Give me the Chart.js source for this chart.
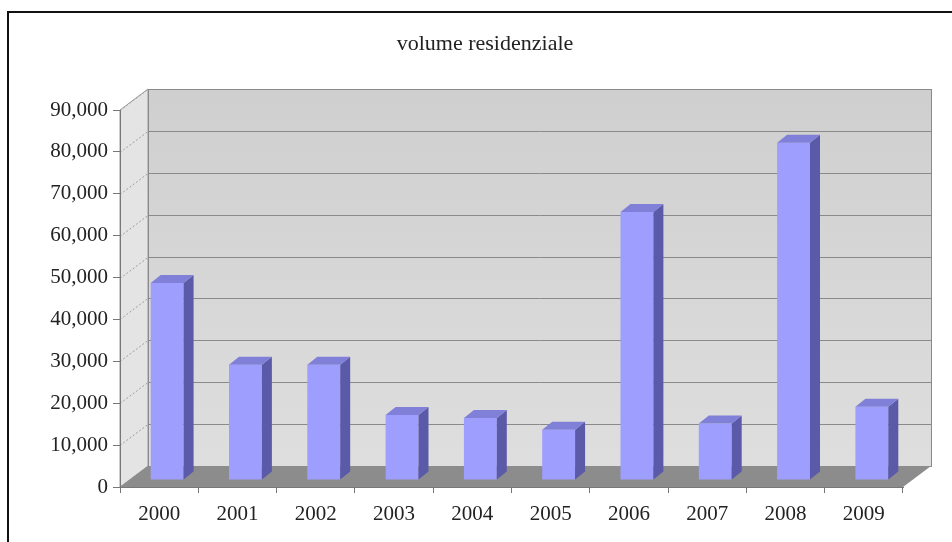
<!DOCTYPE html>
<html>
<head>
<meta charset="utf-8">
<script src="https://cdn.jsdelivr.net/npm/chart.js@4"></script>
<style>
  html, body { margin: 0; padding: 0; background: #fff; }
  #wrap { width: 952px; height: 542px; position: relative; }
</style>
</head>
<body>
<div id="wrap"><canvas id="graf_volume" width="952" height="542"></canvas></div>
<script>
const titolo = 'volume residenziale'
const anni = ['2000', '2001', '2002', '2003', '2004', '2005', '2006', '2007', '2008', '2009']
const volumi = [47000, 27500, 27500, 15500, 14800, 12000, 64000, 13500, 80500, 17500]
const yMax = 90000
const yStep = 10000

// profondita' del "3D"
const DX = 28, DY = -21     // parete di fondo
const BX = 8, BY = -7       // spostamento delle barre
const SX = 10, SY = -8      // spessore delle barre

const fontSerif = '"Liberation Serif", "DejaVu Serif", serif'

const scena3d = {
    id: 'scena3d',
    beforeDraw(chart) {
        const ctx = chart.ctx
        const { left, right, top, bottom } = chart.chartArea
        const y = chart.scales.y
        // cornice
        ctx.save()
        ctx.fillStyle = '#fff'
        ctx.fillRect(0, 0, chart.width, chart.height)
        ctx.strokeStyle = '#111'
        ctx.lineWidth = 2
        ctx.beginPath()
        ctx.moveTo(8, 542)
        ctx.lineTo(8, 12)
        ctx.lineTo(952, 12)
        ctx.stroke()

        // titolo
        ctx.fillStyle = '#222'
        ctx.font = '22px ' + fontSerif
        ctx.textAlign = 'center'
        ctx.textBaseline = 'middle'
        ctx.fillText(titolo, 485, 44)

        // parete di fondo
        const g = ctx.createLinearGradient(0, top + DY, 0, bottom + DY)
        g.addColorStop(0, '#cfcfcf')
        g.addColorStop(1, '#dedede')
        ctx.fillStyle = g
        ctx.fillRect(left + DX, top + DY, right - left, bottom - top)
        // parete laterale
        ctx.fillStyle = '#e4e4e4'
        ctx.beginPath()
        ctx.moveTo(left, top)
        ctx.lineTo(left + DX, top + DY)
        ctx.lineTo(left + DX, bottom + DY)
        ctx.lineTo(left, bottom)
        ctx.closePath()
        ctx.fill()
        ctx.strokeStyle = '#9a9a9a'
        ctx.lineWidth = 1
        ctx.stroke()

        // griglia sul fondo + diagonali sulla parete laterale
        for (let v = 0; v <= yMax; v += yStep) {
            const py = Math.round(y.getPixelForValue(v)) + 0.5
            ctx.strokeStyle = '#8a8a8a'
            ctx.setLineDash([])
            ctx.beginPath()
            ctx.moveTo(left + DX, py + DY)
            ctx.lineTo(right + DX, py + DY)
            ctx.stroke()
            ctx.strokeStyle = '#a0a0a0'
            ctx.setLineDash([2, 2])
            ctx.beginPath()
            ctx.moveTo(left, py)
            ctx.lineTo(left + DX, py + DY)
            ctx.stroke()
        }
        ctx.setLineDash([])
        ctx.strokeStyle = '#8a8a8a'
        ctx.strokeRect(left + DX + 0.5, top + DY + 0.5, right - left, bottom - top)

        // pavimento
        ctx.fillStyle = '#8c8c8c'
        ctx.beginPath()
        ctx.moveTo(left, bottom)
        ctx.lineTo(right, bottom)
        ctx.lineTo(right + DX, bottom + DY)
        ctx.lineTo(left + DX, bottom + DY)
        ctx.closePath()
        ctx.fill()
        ctx.restore()
    },
    beforeDatasetDraw(chart) {
        chart.ctx.save()
        chart.ctx.translate(BX, BY)
    },
    afterDatasetDraw(chart, args) {
        const ctx = chart.ctx
        args.meta.data.forEach(bar => {
            const x0 = bar.x - bar.width / 2
            const x1 = bar.x + bar.width / 2
            const t = bar.y, b = bar.base
            // lato
            ctx.fillStyle = '#5a5aa8'
            ctx.beginPath()
            ctx.moveTo(x1, t)
            ctx.lineTo(x1 + SX, t + SY)
            ctx.lineTo(x1 + SX, b + SY)
            ctx.lineTo(x1, b)
            ctx.closePath()
            ctx.fill()
            // cima
            ctx.fillStyle = '#8080d8'
            ctx.beginPath()
            ctx.moveTo(x0, t)
            ctx.lineTo(x0 + SX, t + SY)
            ctx.lineTo(x1 + SX, t + SY)
            ctx.lineTo(x1, t)
            ctx.closePath()
            ctx.fill()
        })
        ctx.restore()
    }
}

const ctx = document.getElementById('graf_volume').getContext('2d')
const chart = new Chart(ctx, {
    type: 'bar',
    data: {
        labels: anni,
        datasets: [{
            label: titolo,
            data: volumi,
            backgroundColor: '#9e9eff',
            borderWidth: 0,
            categoryPercentage: 1,
            barPercentage: 0.42,
            clip: false
        }]
    },
    plugins: [scena3d],
    options: {
        responsive: false,
        animation: false,
        layout: { padding: { top: 110, right: 49, left: 0, bottom: 0 } },
        plugins: {
            legend: { display: false },
            title: { display: false },
            tooltip: { enabled: false }
        },
        scales: {
            x: {
                afterFit: s => { s.height = 55 },
                grid: { drawOnChartArea: false, offset: true, tickLength: 6, color: '#777' },
                border: { color: '#777' },
                ticks: { color: '#222', padding: 9, font: { family: fontSerif, size: 21 } }
            },
            y: {
                min: 0,
                max: yMax,
                afterFit: s => { s.width = 120 },
                grid: { drawOnChartArea: false, tickLength: 7, color: '#777' },
                border: { color: '#777' },
                ticks: {
                    stepSize: yStep,
                    color: '#222',
                    padding: 5,
                    font: { family: fontSerif, size: 21 },
                    callback: v => String(v).replace(/\B(?=(\d{3})+(?!\d))/g, ',')
                }
            }
        }
    }
})
</script>
</body>
</html>
